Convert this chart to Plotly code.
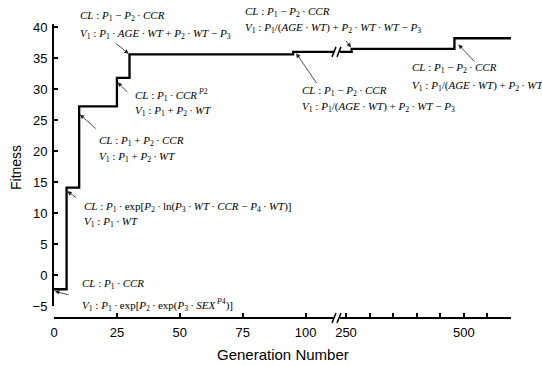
import plotly.graph_objects as go

# ---------------- data ----------------
change_gen = [0, 5, 10, 25, 30, 95, 262, 480, 600]
fitness = [-2.3, 14.1, 27.2, 31.8, 35.6, 36.0, 36.5, 38.2, 38.2]

left_ticks = [0, 25, 50, 75, 100]
right_ticks = [250, 300, 350, 400, 450, 500, 550, 600]
right_tick_text = ["250", "", "", "", "", "500", "", ""]
y_ticks = [-5, 0, 5, 10, 15, 20, 25, 30, 35, 40]

# arrow targets (data coords) : (axis, x, y)
arrow_targets = [
    ("x", 30, 35.6),
    ("x", 25, 31.2),
    ("x", 10, 26.0),
    ("x", 5, 13.6),
    ("x", 0, -2.6),
    ("x2", 262, 36.6),
    ("x", 96, 35.9),
    ("x2", 487, 37.3),
]
# arrow tail offsets in pixels
arrow_tails = [(-15, -12), (12, 12), (18, 16), (11, 8), (16, 4), (-7, -9), (22, 32), (18, 19)]

T = "\u2009"  # thin space
D = T + "·" + T


def sub(s, n):
    return "<i>%s</i><sub>%s</sub>" % (s, n)


CL_A = "<i>CL</i> : " + sub("P", 1) + " − " + sub("P", 2) + D + "<i>CCR</i>"
labels = [
    (CL_A,
     sub("V", 1) + " : " + sub("P", 1) + D + "<i>AGE</i>" + D + "<i>WT</i> + " + sub("P", 2) + D + "<i>WT</i> − " + sub("P", 3)),
    ("<i>CL</i> : " + sub("P", 1) + D + "<i>CCR</i><sup> <i>P</i>2</sup>",
     sub("V", 1) + " : " + sub("P", 1) + " + " + sub("P", 2) + D + "<i>WT</i>"),
    ("<i>CL</i> : " + sub("P", 1) + " + " + sub("P", 2) + D + "<i>CCR</i>",
     sub("V", 1) + " : " + sub("P", 1) + " + " + sub("P", 2) + D + "<i>WT</i>"),
    ("<i>CL</i> : " + sub("P", 1) + D + "exp[" + sub("P", 2) + D + "ln(" + sub("P", 3) + D + "<i>WT</i>" + D + "<i>CCR</i> − " + sub("P", 4) + D + "<i>WT</i>)]",
     sub("V", 1) + " : " + sub("P", 1) + D + "<i>WT</i>"),
    ("<i>CL</i> : " + sub("P", 1) + D + "<i>CCR</i>",
     sub("V", 1) + " : " + sub("P", 1) + D + "exp[" + sub("P", 2) + D + "exp(" + sub("P", 3) + D + "<i>SEX</i><sup> <i>P</i>4</sup>)]"),
    (CL_A,
     sub("V", 1) + " : " + sub("P", 1) + "/(<i>AGE</i>" + D + "<i>WT</i>) + " + sub("P", 2) + D + "<i>WT</i>" + D + "<i>WT</i> − " + sub("P", 3)),
    (CL_A,
     sub("V", 1) + " : " + sub("P", 1) + "/(<i>AGE</i>" + D + "<i>WT</i>) + " + sub("P", 2) + D + "<i>WT</i> − " + sub("P", 3)),
    (CL_A,
     sub("V", 1) + " : " + sub("P", 1) + "/(<i>AGE</i>" + D + "<i>WT</i>) + " + sub("P", 2) + D + "<i>WT</i>"),
]
# label positions in pixels: (left x, CL line y, V1 line y)
label_pos = [(78, 16, 34), (133, 95, 111), (97, 141, 157), (82, 207, 222),
             (80, 284, 305), (243, 12, 28), (300, 91, 107), (410, 68, 86)]

# ---------------- layout constants ----------------
W, H = 542, 366
ML, MR, MT, MB = 54, 31, 24, 48
PW, PH = W - ML - MR, H - MT - MB


def px(x):
    return (x - ML) / PW


def py(y):
    return (H - MB - y) / PH


left_dom = [0, px(334)]
right_dom = [px(340), 1]
y_dom = [py(306), 1]

line_style = dict(color="black", width=2.3)
fig = go.Figure()
fig.add_trace(go.Scatter(x=change_gen, y=fitness, mode="lines", line=line_style,
                         line_shape="hv", xaxis="x", yaxis="y", showlegend=False))
fig.add_trace(go.Scatter(x=change_gen, y=fitness, mode="lines", line=line_style,
                         line_shape="hv", xaxis="x2", yaxis="y", showlegend=False))

tickfont = dict(family="Liberation Sans, Arial", size=13, color="black")
axis_common = dict(showline=True, linecolor="black", linewidth=2, ticks="inside",
                   ticklen=4, tickwidth=1.5, tickcolor="black", showgrid=False,
                   zeroline=False, tickfont=tickfont, automargin=False)

fig.update_layout(
    width=W, height=H,
    margin=dict(l=ML, r=MR, t=MT, b=MB, autoexpand=False),
    paper_bgcolor="white", plot_bgcolor="white",
    xaxis=dict(domain=left_dom, range=[0, (334 - ML) / 2.517], anchor="free", position=0,
               tickmode="array", tickvals=left_ticks, ticklabelstandoff=2, **axis_common),
    xaxis2=dict(domain=right_dom, range=[250 - 6 / 0.472, 600], anchor="free", position=0,
                tickmode="array", tickvals=right_ticks, ticktext=right_tick_text,
                ticklabelstandoff=2, **axis_common),
    yaxis=dict(domain=y_dom, range=[-5, 40.5], anchor="x", tickmode="array",
               tickvals=y_ticks, ticklabelstandoff=2, **axis_common),
)

annotations = []
for (ax_name, xv, yv), (dx, dy) in zip(arrow_targets, arrow_tails):
    annotations.append(dict(x=xv, y=yv, xref=ax_name, yref="y", ax=dx, ay=dy,
                            axref="pixel", ayref="pixel", text="", showarrow=True,
                            arrowhead=2, arrowsize=1.1, arrowwidth=0.8,
                            arrowcolor="#222", standoff=1))

fml_font = dict(family="Liberation Serif, Times New Roman", size=11, color="black")
for (cl, v1), (lx, cy, vy) in zip(labels, label_pos):
    for txt, yy in ((cl, cy), (v1, vy)):
        annotations.append(dict(x=px(lx), y=py(yy), xref="paper", yref="paper",
                                text=txt, showarrow=False, xanchor="left",
                                yanchor="middle", font=fml_font))

annotations.append(dict(x=px(283), y=py(354), xref="paper", yref="paper",
                        text="Generation Number", showarrow=False,
                        xanchor="center", yanchor="middle",
                        font=dict(family="Liberation Sans, Arial", size=15, color="black")))
annotations.append(dict(x=px(16), y=py(168), xref="paper", yref="paper",
                        text="Fitness", showarrow=False, textangle=-90,
                        xanchor="center", yanchor="middle",
                        font=dict(family="Liberation Sans, Arial", size=14, color="black")))
fig.update_layout(annotations=annotations)

# axis-break marks "//"
shapes = []
brk_x = (left_dom[1] + right_dom[0]) / 2
for yref, yanchor in (("paper", 0), ("y", fitness[5])):
    for off in (-5, 0):
        shapes.append(dict(type="line", xref="paper", yref=yref, xsizemode="pixel",
                           ysizemode="pixel", xanchor=brk_x, yanchor=yanchor,
                           x0=off, x1=off + 4, y0=-5, y1=5,
                           line=dict(color="black", width=1.5)))
fig.update_layout(shapes=shapes)

fig.write_html("out.html", config={"displayModeBar": False},
               post_script="document.body.style.margin='0';document.body.style.padding='0';")
